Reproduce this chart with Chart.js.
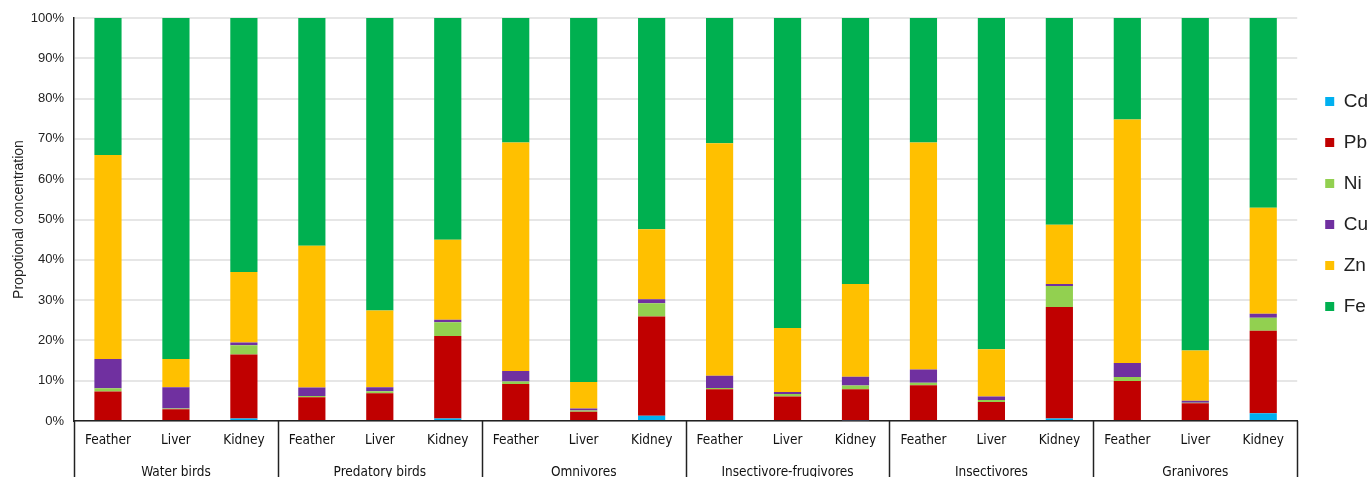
<!DOCTYPE html>
<html lang="en">
  <head>
    <meta charset="UTF-8" />
    <title>Chart</title>
    <script src="https://cdn.jsdelivr.net/npm/chart.js"></script>
    <style>
      html,
      body {
        margin: 0;
        padding: 0;
        background: #fff;
      }
      .chart-box {
        width: 1372px;
        height: 477px;
      }
    </style>
  </head>
  <body>
    <div class="chart-box">
      <canvas id="myChart"></canvas>
    </div>
    <script>
      // feeding groups and tissues
      const groups = [
        "Water birds",
        "Predatory birds",
        "Omnivores",
        "Insectivore-frugivores",
        "Insectivores",
        "Granivores",
      ];
      const tissues = ["Feather", "Liver", "Kidney"];

      // proportional concentration (%), 18 bars: 6 groups x 3 tissues
      const cd = [0, 0, 0.6, 0, 0, 0.6, 0, 0, 1.3, 0, 0, 0.2, 0, 0, 0.6, 0, 0, 1.9];
      const pb = [7.3, 2.9, 15.9, 5.9, 6.9, 20.5, 9.2, 2.3, 24.6, 7.9, 6.1, 7.7, 8.9, 4.7, 27.7, 9.9, 4.4, 20.5];
      const ni = [0.8, 0.2, 2.3, 0.3, 0.5, 3.4, 0.6, 0.3, 3.3, 0.3, 0.6, 0.9, 0.6, 0.5, 5.2, 1.0, 0.1, 3.2];
      const cu = [7.3, 5.3, 0.7, 2.1, 1.0, 0.6, 2.6, 0.5, 1.0, 3.0, 0.5, 2.2, 3.3, 0.9, 0.5, 3.5, 0.5, 1.0];
      const zn = [50.6, 7.0, 17.5, 35.2, 19.0, 19.9, 56.7, 6.6, 17.4, 57.7, 15.9, 23.0, 56.3, 11.7, 14.7, 60.4, 12.5, 26.3];
      const fe = [34.0, 84.6, 63.0, 56.5, 72.6, 55.0, 30.9, 90.3, 52.4, 31.1, 76.9, 66.0, 30.9, 82.2, 51.3, 25.2, 82.5, 47.1];

      const labelList = [];
      groups.forEach(function () {
        tissues.forEach(function (t) {
          labelList.push(t);
        });
      });

      const labelFont = "'DejaVu Sans Condensed', 'Liberation Sans Narrow', sans-serif";

      // group labels and separators under the tissue labels
      const groupAxis = {
        id: "groupAxis",
        afterLayout: function (chart) {
          // nudge the legend a little to the right, like the original
          chart.legend.left += 6;
          chart.legend.right += 6;
        },
        afterDraw: function (chart) {
          const ctx = chart.ctx;
          const x = chart.scales.x;
          const step = x.getPixelForValue(1) - x.getPixelForValue(0);
          const top = chart.chartArea.bottom;
          ctx.save();
          ctx.strokeStyle = "#222";
          ctx.lineWidth = 1.5;
          for (let g = 0; g <= groups.length; g++) {
            const xb = Math.round(x.getPixelForValue(g * tissues.length) - step / 2) + 0.5;
            ctx.beginPath();
            ctx.moveTo(xb, top);
            ctx.lineTo(xb, chart.height);
            ctx.stroke();
          }
          ctx.fillStyle = "#111";
          ctx.font = "13.5px " + labelFont;
          ctx.textAlign = "center";
          ctx.textBaseline = "middle";
          groups.forEach(function (name, g) {
            ctx.fillText(name, x.getPixelForValue(g * tissues.length + 1), top + 51);
          });
          ctx.restore();
        },
      };

      const ctx = document.getElementById("myChart");
      new Chart(ctx, {
        type: "bar",
        data: {
          labels: labelList,
          datasets: [
            { label: "Cd", data: cd, backgroundColor: "#00b0f0" },
            { label: "Pb", data: pb, backgroundColor: "#c00000" },
            { label: "Ni", data: ni, backgroundColor: "#92d050" },
            { label: "Cu", data: cu, backgroundColor: "#7030a0" },
            { label: "Zn", data: zn, backgroundColor: "#ffc000" },
            { label: "Fe", data: fe, backgroundColor: "#00b050" },
          ],
        },
        options: {
          responsive: true,
          maintainAspectRatio: false,
          animation: false,
          barPercentage: 0.4,
          categoryPercentage: 1,
          layout: { padding: { top: 18, right: 0, bottom: 0, left: 0 } },
          scales: {
            x: {
              stacked: true,
              grid: { display: false, drawTicks: false },
              border: { color: "#222", width: 1.5 },
              ticks: {
                autoSkip: false,
                maxRotation: 0,
                padding: 11,
                color: "#111",
                font: { family: labelFont, size: 13.5 },
              },
              afterFit: function (scale) {
                scale.height = 56;
              },
            },
            y: {
              stacked: true,
              min: 0,
              max: 100,
              grid: { color: "#e6e6e6", lineWidth: 2, drawTicks: false },
              border: { color: "#222", width: 1.5 },
              ticks: {
                stepSize: 10,
                padding: 10,
                color: "#222",
                font: { family: "'Liberation Sans', Arial, sans-serif", size: 13 },
                callback: function (v) {
                  return v + "%";
                },
              },
              title: {
                display: true,
                text: "Propotional concentration",
                color: "#222",
                font: { family: "'Liberation Sans', Arial, sans-serif", size: 14 },
                padding: { top: 11, bottom: 0 },
              },
              afterFit: function (scale) {
                scale.width = 74;
              },
            },
          },
          plugins: {
            tooltip: { enabled: false },
            legend: {
              position: "right",
              align: "start",
              title: { display: true, text: "", padding: { top: 40, bottom: 0 }, font: { size: 10 } },
              labels: {
                boxWidth: 9,
                boxHeight: 9,
                padding: 22,
                color: "#222",
                font: { family: "'Liberation Sans', Arial, sans-serif", size: 19 },
              },
            },
          },
        },
        plugins: [groupAxis],
      });
    </script>
  </body>
</html>
